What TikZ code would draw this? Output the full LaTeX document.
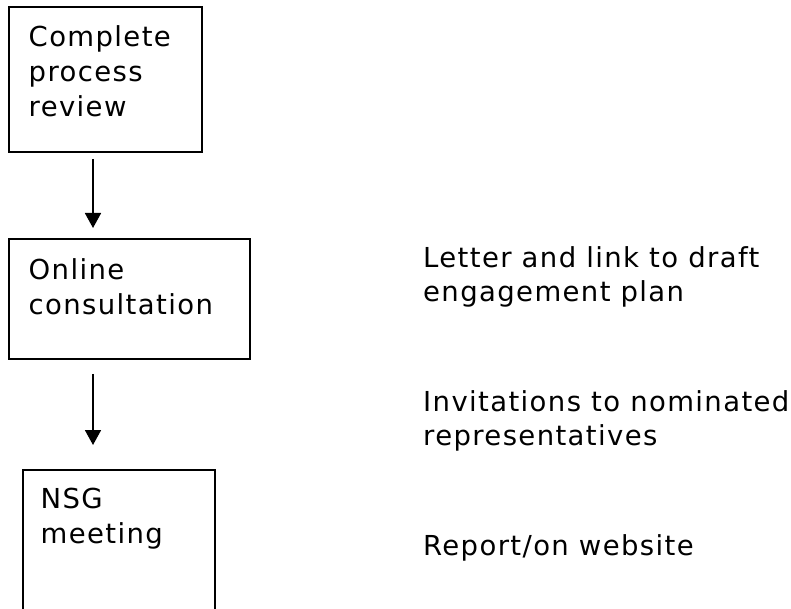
\documentclass[tikz,border=0pt]{standalone}
\usepackage{fontspec}
\setmainfont{DejaVu Sans}[LetterSpace=5]
\usetikzlibrary{arrows.meta}
\begin{document}
\begin{tikzpicture}[x=1pt,y=1pt,
  box/.style={draw=black, line width=1.9pt, rectangle, inner sep=0pt, anchor=north west},
  txt/.style={inner sep=0pt, anchor=base west, align=left, font=\fontsize{27.5pt}{35pt}\selectfont},
  rtxt/.style={txt, font=\fontsize{27.5pt}{34pt}\selectfont},
  arr/.style={draw=black, line width=1.8pt, -{Triangle[width=16pt,length=15pt]}}]
\useasboundingbox (0,0) rectangle (791,-609);
\clip (0,0) rectangle (791,-609);
\node[box, minimum width=193pt, minimum height=145pt] (b1) at (8,-6) {};
\node[box, minimum width=241pt, minimum height=120pt] (b2) at (8,-238) {};
\node[box, minimum width=192pt, minimum height=180pt] (b3) at (22,-469) {};
\node[txt] (t1) at (28.5,-116.5) {Complete\\process\\review};
\node[txt] (t2) at (28.5,-314) {Online\\consultation};
\node[txt] (t3) at (40.5,-543) {NSG\\meeting};
\node[rtxt] (r1) at (423,-301.5) {Letter and link to draft\\engagement plan};
\node[rtxt] (r2) at (423,-445.5) {Invitations to nominated\\representatives};
\node[rtxt] (r3) at (423,-555) {Report/on website};
\coordinate (ax) at (93,0);
\draw[arr, shorten <=6pt, shorten >=10pt] (b1.south -| ax) -- (b2.north -| ax);
\draw[arr, shorten <=14pt, shorten >=24pt] (b2.south -| ax) -- (b3.north -| ax);
\end{tikzpicture}
\end{document}
